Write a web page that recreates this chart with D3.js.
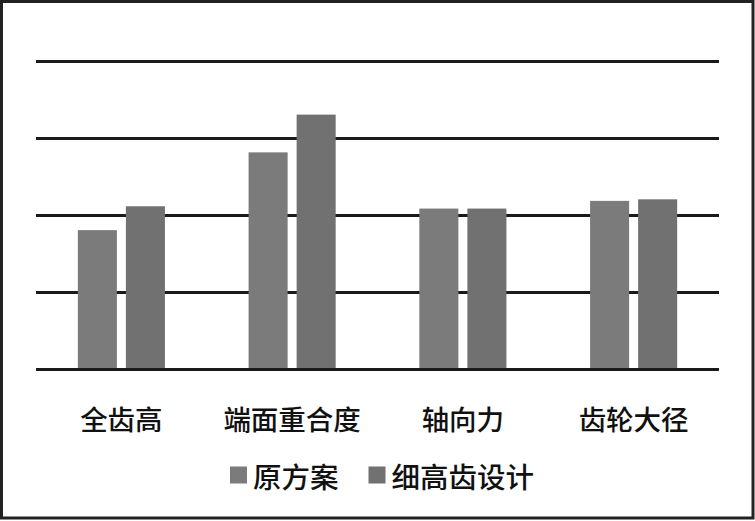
<!DOCTYPE html>
<html>
<head>
<meta charset="utf-8">
<script src="https://cdn.jsdelivr.net/npm/d3@7"></script>
<style>
  html, body { margin: 0; padding: 0; background: #fff; }
  svg { display: block; }
  text { font-family: "Noto Sans CJK SC", "Noto Sans", sans-serif; fill: #111; font-weight: 500; }
</style>
</head>
<body>
<svg id="chart" width="755" height="521"></svg>
<script>
const categories = ["全齿高", "端面重合度", "轴向力", "齿轮大径"];
const seriesNames = ["原方案", "细高齿设计"];
const originalValues = [1.81, 2.82, 2.09, 2.19];
const slimValues = [2.12, 3.31, 2.09, 2.21];
const gridTicks = [0, 1, 2, 3, 4];
const seriesColors = ["#7b7b7b", "#717171"];

const seriesValues = [originalValues, slimValues];
const data = categories.map((c, i) => ({
  category: c,
  values: seriesNames.map((s, j) => ({ series: s, value: seriesValues[j][i], idx: j }))
}));

const svg = d3.select("#chart");
const W = 755, H = 521;

svg.append("rect").attr("x", 0).attr("y", 0).attr("width", W).attr("height", H).attr("fill", "#fff");

const x0 = d3.scaleBand().domain(categories).range([36, 719]).paddingInner(0).paddingOuter(0);
const groupW = x0.bandwidth() * 0.51;
const x1 = d3.scaleBand().domain(seriesNames).range([0, groupW]).paddingInner(0.1875).paddingOuter(0);
const y = d3.scaleLinear().domain([0, 4]).range([369.5, 61.5]);

// gridlines (not baseline)
svg.append("g").selectAll("line").data(gridTicks.filter(t => t > 0)).join("line")
  .attr("x1", 36).attr("x2", 719)
  .attr("y1", d => y(d)).attr("y2", d => y(d))
  .attr("stroke", "#1a1a1a").attr("stroke-width", 3);

// bars
const groups = svg.append("g").selectAll("g").data(data).join("g")
  .attr("transform", d => `translate(${x0(d.category) + (x0.bandwidth() - groupW) / 2},0)`);
groups.selectAll("rect").data(d => d.values).join("rect")
  .attr("x", d => x1(d.series))
  .attr("width", x1.bandwidth())
  .attr("y", d => y(d.value))
  .attr("height", d => y(0) - y(d.value))
  .attr("fill", d => seriesColors[d.idx]);

// baseline axis
svg.append("line")
  .attr("x1", 36).attr("x2", 719)
  .attr("y1", y(0)).attr("y2", y(0))
  .attr("stroke", "#1a1a1a").attr("stroke-width", 3);

// category labels
svg.append("g").selectAll("text").data(categories).join("text")
  .attr("x", d => x0(d) + x0.bandwidth() / 2)
  .attr("y", 418)
  .attr("text-anchor", "middle")
  .attr("dominant-baseline", "central")
  .attr("font-size", 27.5)
  .text(d => d);

// legend
const legend = svg.append("g");
const sq = 17, sqGap = 6, itemGap = 30;
const items = legend.selectAll("g").data(seriesNames).join("g");
items.append("rect").attr("width", sq).attr("height", sq).attr("y", -sq / 2)
  .attr("fill", (d, i) => seriesColors[i]);
items.append("text").attr("x", sq + sqGap).attr("y", 0)
  .attr("dominant-baseline", "central").attr("font-size", 28.5).text(d => d);
let widths = [];
items.each(function () { widths.push(this.getBBox().width); });
const total = d3.sum(widths) + itemGap * (widths.length - 1);
let cx = 382 - total / 2;
items.attr("transform", (d, i) => {
  const t = `translate(${cx},475)`;
  cx += widths[i] + itemGap;
  return t;
});

// frame
svg.append("rect").attr("x", 1.5).attr("y", 1.5).attr("width", 751.5).attr("height", 516.5)
  .attr("fill", "none").attr("stroke", "#222").attr("stroke-width", 3);
</script>
</body>
</html>
